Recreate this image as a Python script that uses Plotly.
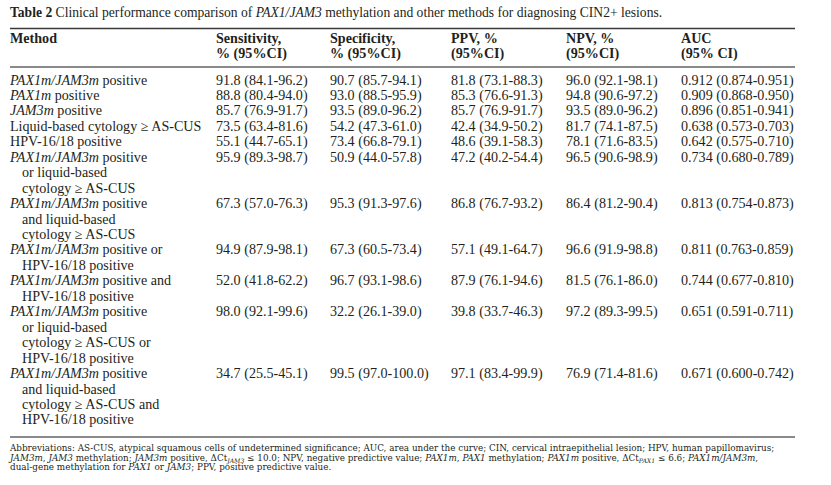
import plotly.graph_objects as go

# ---------------- data ----------------
title_text = ("<b>Table 2</b> Clinical performance comparison of <i>PAX1/JAM3</i> "
              "methylation and other methods for diagnosing CIN2+ lesions.")

header_lines = [
    ["Method", ""],
    ["Sensitivity,", "% (95%CI)"],
    ["Specificity,", "% (95%CI)"],
    ["PPV, %", "(95%CI)"],
    ["NPV, %", "(95%CI)"],
    ["AUC", "(95% CI)"],
]

methods = [
    ["<i>PAX1m/JAM3m</i> positive"],
    ["<i>PAX1m</i> positive"],
    ["<i>JAM3m</i> positive"],
    ["Liquid-based cytology ≥ AS-CUS"],
    ["HPV-16/18 positive"],
    ["<i>PAX1m/JAM3m</i> positive", "or liquid-based", "cytology ≥ AS-CUS"],
    ["<i>PAX1m/JAM3m</i> positive", "and liquid-based", "cytology ≥ AS-CUS"],
    ["<i>PAX1m/JAM3m</i> positive or", "HPV-16/18 positive"],
    ["<i>PAX1m/JAM3m</i> positive and", "HPV-16/18 positive"],
    ["<i>PAX1m/JAM3m</i> positive", "or liquid-based", "cytology ≥ AS-CUS or", "HPV-16/18 positive"],
    ["<i>PAX1m/JAM3m</i> positive", "and liquid-based", "cytology ≥ AS-CUS and", "HPV-16/18 positive"],
]

sensitivity = [(91.8, 84.1, 96.2), (88.8, 80.4, 94.0), (85.7, 76.9, 91.7), (73.5, 63.4, 81.6),
               (55.1, 44.7, 65.1), (95.9, 89.3, 98.7), (67.3, 57.0, 76.3), (94.9, 87.9, 98.1),
               (52.0, 41.8, 62.2), (98.0, 92.1, 99.6), (34.7, 25.5, 45.1)]
specificity = [(90.7, 85.7, 94.1), (93.0, 88.5, 95.9), (93.5, 89.0, 96.2), (54.2, 47.3, 61.0),
               (73.4, 66.8, 79.1), (50.9, 44.0, 57.8), (95.3, 91.3, 97.6), (67.3, 60.5, 73.4),
               (96.7, 93.1, 98.6), (32.2, 26.1, 39.0), (99.5, 97.0, 100.0)]
ppv = [(81.8, 73.1, 88.3), (85.3, 76.6, 91.3), (85.7, 76.9, 91.7), (42.4, 34.9, 50.2),
       (48.6, 39.1, 58.3), (47.2, 40.2, 54.4), (86.8, 76.7, 93.2), (57.1, 49.1, 64.7),
       (87.9, 76.1, 94.6), (39.8, 33.7, 46.3), (97.1, 83.4, 99.9)]
npv = [(96.0, 92.1, 98.1), (94.8, 90.6, 97.2), (93.5, 89.0, 96.2), (81.7, 74.1, 87.5),
       (78.1, 71.6, 83.5), (96.5, 90.6, 98.9), (86.4, 81.2, 90.4), (96.6, 91.9, 98.8),
       (81.5, 76.1, 86.0), (97.2, 89.3, 99.5), (76.9, 71.4, 81.6)]
auc = [(0.912, 0.874, 0.951), (0.909, 0.868, 0.950), (0.896, 0.851, 0.941), (0.638, 0.573, 0.703),
       (0.642, 0.575, 0.710), (0.734, 0.680, 0.789), (0.813, 0.754, 0.873), (0.811, 0.763, 0.859),
       (0.744, 0.677, 0.810), (0.651, 0.591, 0.711), (0.671, 0.600, 0.742)]

footnote_lines = [
    "Abbreviations: AS-CUS, atypical squamous cells of undetermined significance; AUC, area under the curve; "
    "CIN, cervical intraepithelial lesion; HPV, human papillomavirus;",
    "<i>JAM3m</i>, <i>JAM3</i> methylation; <i>JAM3m</i> positive, ΔCt<sub><i>JAM3</i></sub> ≤ 10.0; "
    "NPV, negative predictive value; <i>PAX1m</i>, <i>PAX1</i> methylation; <i>PAX1m</i> positive, "
    "ΔCt<sub><i>PAX1</i></sub> ≤ 6.6; <i>PAX1m/JAM3m</i>,",
    "dual-gene methylation for <i>PAX1</i> or <i>JAM3</i>; PPV, positive predictive value.",
]

# ---------------- layout constants ----------------
W, H = 831, 485
FONT = "Liberation Serif"
FOOT_FONT = "DejaVu Serif"
INK = "#231f20"
BODY = 14.1
col_x = [10, 216, 330, 451, 566, 681]
indent = 12
table_left, table_right = 10, 795
title_y = 14
top_rule_y = 28.5
header_y0, header_pitch = 39.5, 14.6
mid_rule_y = 67
row_y0, pitch = 81, 15.45
bottom_rule_y = 437
foot_y0, foot_pitch = 449, 9.5

fmt1 = lambda t: f"{t[0]:.1f} ({t[1]:.1f}-{t[2]:.1f})"
fmt3 = lambda t: f"{t[0]:.3f} ({t[1]:.3f}-{t[2]:.3f})"

fig = go.Figure()

def add_text(xs, ys, texts, size, bold=False, family=FONT):
    fig.add_trace(go.Scatter(
        x=xs, y=ys, text=[f"<b>{t}</b>" if bold else t for t in texts],
        mode="text", textposition="middle right",
        textfont=dict(family=family, size=size, color=INK),
        hoverinfo="skip", showlegend=False, cliponaxis=False))

# title
add_text([table_left], [title_y], [title_text], 13.6)

# header
hx, hy, ht = [], [], []
for ci, lines in enumerate(header_lines):
    for li, t in enumerate(lines):
        if t:
            hx.append(col_x[ci]); hy.append(header_y0 + li * header_pitch); ht.append(t)
add_text(hx, hy, ht, BODY, bold=True)

# body
mx, my, mt = [], [], []
vx, vy, vt = [], [], []
line = 0
columns = [(sensitivity, fmt1), (specificity, fmt1), (ppv, fmt1), (npv, fmt1), (auc, fmt3)]
for r, mlines in enumerate(methods):
    y_first = row_y0 + line * pitch
    for li, t in enumerate(mlines):
        mx.append(table_left + (indent if li > 0 else 0))
        my.append(row_y0 + (line + li) * pitch)
        mt.append(t)
    for ci, (vals, f) in enumerate(columns):
        vx.append(col_x[ci + 1]); vy.append(y_first); vt.append(f(vals[r]))
    line += len(mlines)
add_text(mx, my, mt, BODY)
add_text(vx, vy, vt, BODY)

# footnote
add_text([table_left] * len(footnote_lines),
         [foot_y0 + i * foot_pitch for i in range(len(footnote_lines))],
         footnote_lines, 8.8, family=FOOT_FONT)

# rules
fig.add_shape(type="line", x0=table_left, x1=table_right, y0=top_rule_y, y1=top_rule_y,
              line=dict(color="#3a3a3a", width=1.3), xref="x", yref="y")
fig.add_shape(type="line", x0=table_left, x1=table_right, y0=mid_rule_y, y1=mid_rule_y,
              line=dict(color="#8a8a8a", width=2.2), xref="x", yref="y")
fig.add_shape(type="line", x0=table_left, x1=table_right, y0=bottom_rule_y, y1=bottom_rule_y,
              line=dict(color="#8a8a8a", width=2.2), xref="x", yref="y")

fig.update_layout(
    width=W, height=H, margin=dict(l=0, r=0, t=0, b=0),
    paper_bgcolor="white", plot_bgcolor="white",
    xaxis=dict(range=[0, W], visible=False, fixedrange=True),
    yaxis=dict(range=[H, 0], visible=False, fixedrange=True),
    showlegend=False, hovermode=False,
)
fig.write_html("out.html", config={"displayModeBar": False, "staticPlot": True},
               post_script="document.body.style.margin='0';document.body.style.overflow='hidden';")
